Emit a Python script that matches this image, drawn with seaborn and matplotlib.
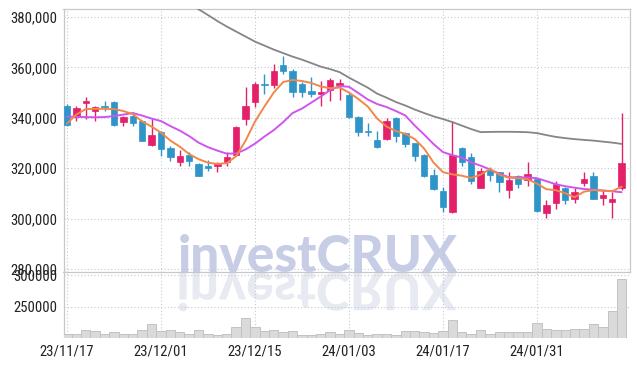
import numpy as np
import pandas as pd
import matplotlib
matplotlib.use("Agg")
import matplotlib.pyplot as plt
import seaborn as sns
from matplotlib import font_manager as fm
from matplotlib.font_manager import FontProperties
from matplotlib.textpath import TextPath
from matplotlib.patches import PathPatch
from matplotlib.transforms import Affine2D

# ---------------- data ----------------
opens = [344800, 340200, 345800, 342600, 344500, 346200, 338200, 340900, 338900, 329200,
         334500, 327900, 322600, 325300, 321700, 321000, 320800, 322300, 325300, 339600,
         346200, 353500, 353100, 361000, 358700, 353300, 350500, 349300, 351100, 353100,
         349100, 340500, 334900, 331000, 331400, 340000, 334000, 329900, 325400, 317500,
         310800, 302500, 327900, 324600, 312200, 319300, 318400, 311500, 317100, 315400,
         315700, 302200, 306200, 312200, 307800, 314000, 317100, 308400, 306500, 312200]
highs = [345500, 344800, 348400, 344800, 346500, 346700, 340900, 342200, 339000, 339800,
         334800, 328900, 327400, 326500, 322100, 323300, 322400, 326500, 336600, 352100,
         354100, 357400, 361400, 364300, 359500, 354100, 356100, 354400, 355700, 355500,
         349700, 340700, 338000, 334900, 339800, 340300, 334200, 330000, 325600, 319700,
         312700, 338600, 328300, 325900, 320000, 320400, 318600, 318400, 317500, 322300,
         316000, 307400, 315100, 312700, 312200, 318400, 318500, 311400, 310700, 342000]
lows = [336800, 338600, 339600, 338900, 342600, 336900, 336900, 336900, 330800, 329000,
        325000, 322700, 321000, 321000, 316900, 318900, 318500, 321000, 325000, 337200,
        344200, 349500, 351900, 357400, 348100, 348100, 348100, 344600, 346800, 347100,
        340000, 332900, 332900, 328000, 331000, 330300, 328300, 323000, 316700, 311500,
        302800, 302300, 321000, 313800, 312000, 315100, 310400, 308400, 312000, 313100,
        302700, 300300, 303800, 305800, 306100, 313100, 307900, 305500, 300100, 311400]
closes = [337200, 343900, 346800, 344200, 344100, 337200, 340200, 337800, 330900, 333300,
          327700, 324300, 325000, 323000, 317100, 320000, 321700, 324600, 336200, 344500,
          353500, 352800, 358700, 358500, 350100, 350100, 349500, 350400, 355100, 353900,
          340200, 334200, 334500, 328300, 338900, 332900, 329600, 325000, 317100, 311800,
          304500, 325400, 322300, 315100, 319000, 317500, 314700, 315500, 313800, 317700,
          302900, 305400, 313800, 307500, 310700, 315700, 308000, 309500, 308000, 321900]

ma_short = [337700, 341300, 343460, 343530, 343530, 343460, 342660, 341470, 338500, 336500,
            334120, 330950, 328570, 325590, 323600, 322210, 321700, 322020, 324800, 330950,
            338490, 344450, 350000, 354170, 354970, 354570, 353780, 352390, 351710, 351990,
            350000, 347420, 344450, 339680, 336500, 334720, 333610, 331540, 327770, 322210,
            318440, 317570, 317050, 316140, 317450, 319710, 317450, 316260, 316060, 315660,
            313880, 311700, 311300, 310110, 308520, 310700, 311380, 311100, 310900, 312690]
ma_mid = [340480, 340360, 340280, 340200, 340280, 340670, 341270, 341870, 340870, 339680,
          338690, 336700, 334920, 332740, 330150, 328370, 326980, 325790, 325870, 327450,
          329760, 332540, 335120, 338290, 341870, 343650, 346030, 348420, 351000, 352580,
          352270, 349810, 347230, 345440, 344250, 342660, 340870, 336900, 333330, 329560,
          326380, 325190, 324200, 322330, 321020, 319510, 317850, 316460, 316380, 316380,
          316060, 314870, 313680, 312880, 312290, 311770, 311500, 311180, 310900, 310500]
ma_long = [np.nan] * 12 + [
    387400, 385270, 383000, 380700, 378320, 376140, 374150, 372170,
    370180, 368600, 367010, 365620, 364230, 363040, 361650, 360260, 359270, 358080,
    355900, 353920, 351930, 349550, 347960, 346230, 344840, 343260, 341870, 340560,
    339480, 338290, 336900, 335510, 334320, 334400, 334440, 334440, 334400, 334280,
    333930, 333130, 332420, 331940, 331540, 331230, 330950, 330550, 330160, 329640]
volumes = [207700, 207700, 212900, 211300, 206600, 209800, 206600, 207700, 212900, 222400,
           211300, 212900, 209800, 207700, 212900, 207700, 206100, 207700, 217200, 232900,
           217200, 211300, 214000, 209800, 211300, 204600, 204600, 206600, 209800, 206600,
           212900, 208700, 204600, 207700, 207700, 206100, 211300, 211300, 209800, 208700,
           211300, 228700, 209800, 207700, 214000, 207700, 209800, 209800, 209800, 209800,
           224000, 215600, 214000, 212900, 215600, 215600, 222400, 217200, 242900, 294400]

date_ticks = [0, 10, 20, 30, 40, 50]
date_labels = ["23/11/17", "23/12/01", "23/12/15", "24/01/03", "24/01/17", "24/01/31"]
price_ticks = [280000, 300000, 320000, 340000, 360000, 380000]
volume_ticks = [250000, 300000]

# ---------------- style ----------------
sns.set_theme(style="white")


def pick(names):
    for nm in names:
        try:
            fm.findfont(FontProperties(family=nm), fallback_to_default=False)
            return nm
        except Exception:
            pass
    return "DejaVu Sans"


def narrow_font():
    """Find a narrow / condensed sans face if one is installed."""
    prefs = []
    for f in fm.fontManager.ttflist:
        name = f.name.lower()
        st = str(f.stretch).lower()
        narrow = ("narrow" in name or "condensed" in name or
                  st in ("condensed", "semi-condensed", "extra-condensed", "ultra-condensed"))
        if not narrow or f.style != "normal":
            continue
        w = f.weight if isinstance(f.weight, int) else {"normal": 400, "regular": 400,
                                                        "book": 400}.get(str(f.weight), 700)
        if w > 500 or "mono" in name or "serif" in name and "sans" not in name:
            continue
        rank = 0 if "liberation" in name else (1 if "roboto" in name else 2)
        prefs.append((rank, f.fname))
    if prefs:
        prefs.sort()
        return FontProperties(fname=prefs[0][1])
    return FontProperties(family=pick(["Roboto", "Liberation Sans", "DejaVu Sans"]))


tick_fp = narrow_font()


def fit_size(text, width_px, max_pt):
    tpx = TextPath((0, 0), text, size=1, prop=tick_fp)
    w_em = tpx.get_extents().width
    size = width_px / w_em * 72 / 100
    return min(size, max_pt)


ysize = fit_size("380,000", 45, 11.2)
xsize = ysize
wm_font = pick(["Lato", "Noto Sans", "DejaVu Sans"])

UP = "#e4206a"
DOWN = "#2f95c8"
GRID = "#c4c8dc"
SPINE = "#c8c8c8"

n = len(opens)
idx = np.arange(n)
df = pd.DataFrame({"i": idx, "open": opens, "high": highs, "low": lows, "close": closes,
                   "ma_short": ma_short, "ma_mid": ma_mid, "ma_long": ma_long, "volume": volumes})

fig = plt.figure(figsize=(6.37, 3.66), dpi=100)
fig.patch.set_facecolor("white")

W, H = 637.0, 366.0
left, right = 63.5 / W, 629.5 / W
ax = fig.add_axes([left, 1 - 272.3 / H, right - left, (272.3 - 9) / H])
axv = fig.add_axes([left, 1 - 337.5 / H, right - left, (337.5 - 272.3) / H])
for a in (ax, axv):
    a.set_facecolor("none")

# watermark and its reflection (behind the axes)
fig.text(317.5 / W, 1 - 272 / H, "investCRUX", fontsize=37, fontweight="black",
         family=[wm_font, "DejaVu Sans"], color="#c8cde6", ha="center", va="baseline", zorder=-2)
tp = TextPath((0, 0), "investCRUX", size=37, prop=FontProperties(family=wm_font, weight="black"))
ext = tp.get_extents()
tr = (Affine2D().translate(-(ext.x0 + ext.width / 2), 0).scale(1 / 72, -1 / 72)
      .translate(317.5 / 100, (H - 273) / 100) + fig.dpi_scale_trans)
fig.add_artist(PathPatch(tp, transform=tr, facecolor="#e8eaf2", edgecolor="none", zorder=-2))

# candles
cols = np.where(df["close"] >= df["open"], UP, DOWN)
ax.vlines(df["i"], df["low"], df["high"], colors=cols, linewidth=1.0, zorder=3)
body_low = np.minimum(df["open"], df["close"])
body_h = np.maximum(np.abs(df["close"] - df["open"]), 350)
ax.bar(df["i"], body_h, bottom=body_low, width=0.68, color=cols, edgecolor=cols,
       linewidth=0.5, zorder=4)

# moving averages
sns.lineplot(data=df, x="i", y="ma_long", ax=ax, color="#858585", linewidth=1.3, zorder=5)
sns.lineplot(data=df, x="i", y="ma_mid", ax=ax, color="#cf55ee", linewidth=1.4, zorder=5)
sns.lineplot(data=df, x="i", y="ma_short", ax=ax, color="#f0884a", linewidth=1.4, zorder=6)

# volume
sns.barplot(data=df, x="i", y="volume", ax=axv, native_scale=True, color="#dadada",
            saturation=1, edgecolor="#c2c2c2", linewidth=0.7, width=1.0, errorbar=None, zorder=3)

xlim = (-0.37, n - 1 + 0.84)
for a in (ax, axv):
    a.set_xlim(*xlim)
    a.set_xticks(date_ticks)
    a.grid(True, linestyle=(0, (1, 2)), color=GRID, linewidth=0.8, zorder=0)
    a.set_xlabel("")
    a.set_ylabel("")
    a.tick_params(length=0, labelcolor="#222222", pad=4.5)
    for s in a.spines.values():
        s.set_color(SPINE)
        s.set_linewidth(0.9)

ax.set_ylim(278770, 383100)
ax.set_yticks(price_ticks)
ax.set_yticklabels([f"{v:,}" for v in price_ticks])
ax.tick_params(axis="x", labelbottom=False)

axv.set_ylim(201400, 304300)
axv.set_yticks(volume_ticks)
axv.set_yticklabels([str(v) for v in volume_ticks])
axv.set_xticklabels(date_labels)
axv.tick_params(axis="x", pad=5)
axv.spines["top"].set_visible(False)
axv.spines["bottom"].set_visible(False)
axv.spines["right"].set_visible(False)

for a in (ax, axv):
    for lbl in a.get_yticklabels():
        lbl.set_fontproperties(tick_fp)
        lbl.set_fontsize(ysize)
for lbl in axv.get_xticklabels():
    lbl.set_fontproperties(tick_fp)
    lbl.set_fontsize(xsize)

fig.savefig("out.png", dpi=100, facecolor="white")
